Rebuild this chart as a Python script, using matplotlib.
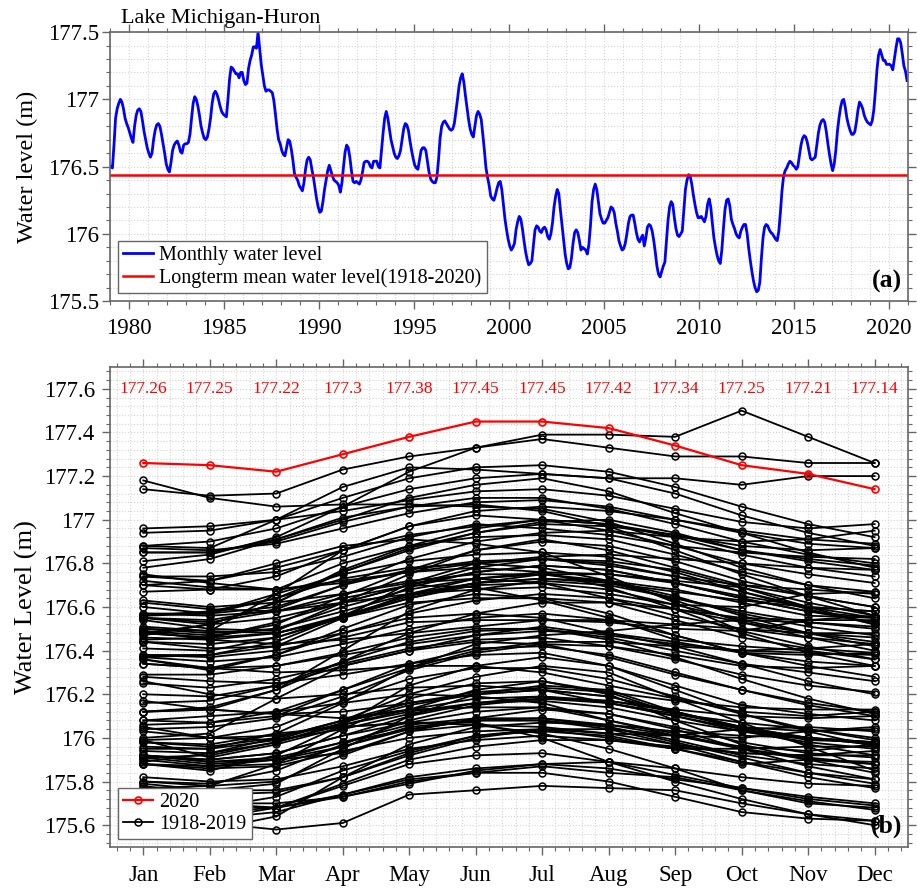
#!/usr/bin/env python
# -*- coding: utf-8 -*-
"""Lake Michigan-Huron water levels: monthly record since 1979 and every year by month."""

import matplotlib
matplotlib.use("Agg")
import matplotlib.pyplot as pyplot
from matplotlib.lines import Line2D
from matplotlib.ticker import MultipleLocator, FuncFormatter

## Data (m)

FIRST_YEAR = 1918
MONTHS = ["Jan", "Feb", "Mar", "Apr", "May", "Jun", "Jul", "Aug", "Sep", "Oct", "Nov", "Dec"]
LONGTERM_MEAN = 176.44  # 1918-2020

# One row per year, Jan..Dec
LEVELS_1918_1978 = [
    [176.55, 176.52, 176.55, 176.62, 176.70, 176.76, 176.79, 176.77, 176.71, 176.64, 176.58, 176.53],
    [176.49, 176.47, 176.50, 176.60, 176.68, 176.73, 176.75, 176.72, 176.65, 176.56, 176.48, 176.42],
    [176.37, 176.35, 176.37, 176.43, 176.50, 176.55, 176.57, 176.54, 176.47, 176.39, 176.33, 176.28],
    [176.25, 176.23, 176.27, 176.34, 176.41, 176.45, 176.46, 176.42, 176.36, 176.29, 176.24, 176.21],
    [176.20, 176.19, 176.24, 176.35, 176.44, 176.49, 176.50, 176.45, 176.37, 176.27, 176.18, 176.11],
    [176.03, 176.00, 176.01, 176.06, 176.13, 176.18, 176.19, 176.16, 176.10, 176.03, 175.98, 175.95],
    [175.92, 175.90, 175.93, 176.01, 176.10, 176.16, 176.19, 176.17, 176.12, 176.04, 175.97, 175.92],
    [175.88, 175.86, 175.87, 175.94, 176.00, 176.03, 176.04, 176.00, 175.95, 175.89, 175.84, 175.81],
    [175.72, 175.70, 175.70, 175.73, 175.79, 175.85, 175.88, 175.89, 175.86, 175.82, 175.79, 175.78],
    [175.80, 175.79, 175.85, 175.97, 176.08, 176.15, 176.18, 176.17, 176.13, 176.10, 176.09, 176.10],
    [176.08, 176.07, 176.12, 176.22, 176.32, 176.40, 176.44, 176.44, 176.42, 176.40, 176.41, 176.43],
    [176.48, 176.52, 176.62, 176.77, 176.88, 176.96, 177.00, 176.98, 176.92, 176.84, 176.78, 176.74],
    [176.70, 176.68, 176.68, 176.72, 176.76, 176.78, 176.76, 176.69, 176.59, 176.48, 176.39, 176.33],
    [176.26, 176.20, 176.18, 176.20, 176.23, 176.24, 176.22, 176.16, 176.10, 176.04, 176.00, 175.97],
    [175.92, 175.90, 175.93, 176.01, 176.07, 176.12, 176.14, 176.11, 176.05, 175.98, 175.93, 175.91],
    [175.88, 175.87, 175.90, 175.98, 176.06, 176.09, 176.09, 176.05, 175.98, 175.91, 175.84, 175.79],
    [175.72, 175.70, 175.68, 175.74, 175.81, 175.84, 175.87, 175.84, 175.82, 175.76, 175.71, 175.67],
    [175.65, 175.63, 175.66, 175.74, 175.82, 175.86, 175.88, 175.86, 175.81, 175.77, 175.73, 175.70],
    [175.68, 175.66, 175.68, 175.78, 175.88, 175.92, 175.93, 175.89, 175.83, 175.77, 175.72, 175.69],
    [175.67, 175.68, 175.73, 175.85, 175.94, 176.01, 176.04, 176.02, 175.97, 175.93, 175.92, 175.92],
    [175.91, 175.92, 175.98, 176.07, 176.15, 176.20, 176.22, 176.19, 176.12, 176.05, 176.00, 175.98],
    [175.99, 176.00, 176.05, 176.17, 176.27, 176.32, 176.32, 176.27, 176.19, 176.11, 176.04, 175.99],
    [175.90, 175.87, 175.88, 175.96, 176.05, 176.08, 176.08, 176.05, 175.99, 175.92, 175.88, 175.86],
    [175.82, 175.80, 175.81, 175.87, 175.95, 175.99, 176.01, 175.99, 175.95, 175.95, 175.96, 175.96],
    [175.95, 175.95, 175.99, 176.08, 176.16, 176.21, 176.23, 176.21, 176.17, 176.14, 176.13, 176.13],
    [176.12, 176.13, 176.22, 176.40, 176.58, 176.68, 176.72, 176.70, 176.64, 176.58, 176.53, 176.50],
    [176.46, 176.45, 176.48, 176.56, 176.64, 176.70, 176.71, 176.68, 176.61, 176.54, 176.48, 176.44],
    [176.41, 176.40, 176.46, 176.56, 176.65, 176.71, 176.73, 176.71, 176.67, 176.63, 176.60, 176.58],
    [176.55, 176.53, 176.58, 176.66, 176.72, 176.75, 176.75, 176.71, 176.64, 176.57, 176.51, 176.47],
    [176.45, 176.46, 176.52, 176.65, 176.77, 176.86, 176.90, 176.88, 176.81, 176.72, 176.65, 176.60],
    [176.57, 176.57, 176.64, 176.73, 176.78, 176.80, 176.78, 176.72, 176.63, 176.53, 176.46, 176.40],
    [176.36, 176.32, 176.30, 176.31, 176.33, 176.33, 176.30, 176.24, 176.18, 176.12, 176.10, 176.12],
    [176.12, 176.14, 176.22, 176.35, 176.48, 176.57, 176.62, 176.62, 176.59, 176.55, 176.54, 176.56],
    [176.56, 176.58, 176.64, 176.76, 176.87, 176.94, 176.98, 176.97, 176.93, 176.88, 176.86, 176.87],
    [176.88, 176.90, 176.96, 177.06, 177.14, 177.19, 177.21, 177.19, 177.12, 177.02, 176.94, 176.88],
    [176.85, 176.85, 176.90, 176.99, 177.06, 177.10, 177.10, 177.05, 176.98, 176.90, 176.84, 176.80],
    [176.72, 176.69, 176.68, 176.71, 176.76, 176.80, 176.82, 176.79, 176.74, 176.70, 176.68, 176.66],
    [176.63, 176.60, 176.62, 176.66, 176.71, 176.73, 176.71, 176.64, 176.56, 176.50, 176.46, 176.43],
    [176.34, 176.32, 176.33, 176.39, 176.46, 176.50, 176.50, 176.46, 176.40, 176.34, 176.30, 176.26],
    [176.17, 176.13, 176.11, 176.12, 176.16, 176.20, 176.22, 176.19, 176.12, 176.05, 176.00, 175.97],
    [175.92, 175.89, 175.90, 175.96, 176.04, 176.08, 176.09, 176.06, 176.01, 175.95, 175.90, 175.88],
    [175.79, 175.76, 175.76, 175.82, 175.92, 176.00, 176.04, 176.04, 176.01, 176.00, 176.03, 176.05],
    [176.06, 176.07, 176.10, 176.22, 176.34, 176.41, 176.42, 176.38, 176.30, 176.22, 176.15, 176.10],
    [176.05, 176.00, 175.99, 176.04, 176.11, 176.16, 176.17, 176.14, 176.08, 176.03, 176.00, 175.98],
    [175.92, 175.89, 175.91, 175.98, 176.04, 176.08, 176.08, 176.04, 175.97, 175.89, 175.82, 175.77],
    [175.72, 175.69, 175.68, 175.73, 175.80, 175.84, 175.84, 175.80, 175.73, 175.66, 175.63, 175.62],
    [175.65, 175.61, 175.58, 175.61, 175.74, 175.76, 175.78, 175.77, 175.76, 175.70, 175.65, 175.62],
    [175.62, 175.63, 175.68, 175.79, 175.90, 175.96, 175.99, 175.99, 175.96, 175.93, 175.92, 175.94],
    [175.94, 175.93, 175.98, 176.06, 176.12, 176.16, 176.18, 176.16, 176.11, 176.05, 176.03, 176.04],
    [176.04, 176.05, 176.09, 176.19, 176.31, 176.39, 176.43, 176.42, 176.38, 176.33, 176.32, 176.33],
    [176.29, 176.29, 176.33, 176.38, 176.43, 176.47, 176.49, 176.48, 176.44, 176.39, 176.35, 176.33],
    [176.37, 176.38, 176.44, 176.56, 176.69, 176.76, 176.79, 176.77, 176.71, 176.64, 176.58, 176.55],
    [176.44, 176.41, 176.42, 176.48, 176.57, 176.63, 176.66, 176.64, 176.59, 176.53, 176.48, 176.46],
    [176.44, 176.43, 176.46, 176.55, 176.66, 176.73, 176.76, 176.75, 176.71, 176.65, 176.60, 176.58],
    [176.55, 176.54, 176.59, 176.70, 176.82, 176.90, 176.94, 176.95, 176.92, 176.90, 176.91, 176.95],
    [176.96, 176.97, 177.00, 177.04, 177.09, 177.13, 177.14, 177.11, 177.05, 176.99, 176.96, 176.98],
    [176.94, 176.95, 177.00, 177.10, 177.19, 177.24, 177.25, 177.22, 177.15, 177.06, 176.98, 176.92],
    [176.87, 176.86, 176.89, 176.96, 177.03, 177.08, 177.09, 177.06, 177.00, 176.94, 176.89, 176.87],
    [176.85, 176.85, 176.91, 177.01, 177.06, 177.07, 177.04, 176.97, 176.86, 176.75, 176.65, 176.56],
    [176.49, 176.45, 176.43, 176.45, 176.48, 176.51, 176.54, 176.54, 176.52, 176.50, 176.48, 176.48],
    [176.48, 176.46, 176.48, 176.55, 176.64, 176.71, 176.75, 176.75, 176.72, 176.69, 176.60, 176.55],
]

LEVELS_1979_2020 = [
    [176.50, 176.49, 176.66, 176.86, 176.93, 176.97, 177.00, 176.98, 176.93, 176.86, 176.82, 176.79],
    [176.75, 176.71, 176.68, 176.80, 176.88, 176.92, 176.93, 176.91, 176.84, 176.76, 176.70, 176.64],
    [176.60, 176.57, 176.60, 176.70, 176.77, 176.81, 176.82, 176.80, 176.74, 176.67, 176.60, 176.52],
    [176.48, 176.46, 176.53, 176.62, 176.66, 176.68, 176.69, 176.66, 176.61, 176.60, 176.66, 176.67],
    [176.67, 176.68, 176.74, 176.86, 176.97, 177.02, 177.00, 176.95, 176.88, 176.80, 176.75, 176.71],
    [176.70, 176.72, 176.78, 176.86, 176.97, 177.04, 177.06, 177.04, 177.00, 176.95, 176.91, 176.89],
    [176.88, 176.87, 177.00, 177.15, 177.24, 177.23, 177.21, 177.19, 177.19, 177.16, 177.20, 177.20],
    [177.14, 177.11, 177.12, 177.23, 177.29, 177.33, 177.39, 177.39, 177.38, 177.50, 177.38, 177.26],
    [177.18, 177.10, 177.06, 177.07, 177.07, 177.06, 177.05, 176.99, 176.89, 176.78, 176.70, 176.67],
    [176.62, 176.59, 176.58, 176.64, 176.70, 176.69, 176.63, 176.55, 176.45, 176.42, 176.40, 176.36],
    [176.34, 176.32, 176.38, 176.48, 176.55, 176.57, 176.55, 176.48, 176.42, 176.34, 176.26, 176.20],
    [176.16, 176.17, 176.24, 176.33, 176.40, 176.47, 176.51, 176.47, 176.43, 176.40, 176.39, 176.38],
    [176.36, 176.31, 176.38, 176.50, 176.61, 176.66, 176.64, 176.57, 176.47, 176.39, 176.38, 176.39],
    [176.38, 176.37, 176.40, 176.46, 176.53, 176.54, 176.54, 176.53, 176.50, 176.49, 176.54, 176.54],
    [176.54, 176.50, 176.49, 176.62, 176.75, 176.86, 176.91, 176.86, 176.78, 176.70, 176.65, 176.60],
    [176.57, 176.56, 176.58, 176.62, 176.70, 176.78, 176.82, 176.81, 176.77, 176.69, 176.62, 176.56],
    [176.51, 176.49, 176.48, 176.55, 176.62, 176.64, 176.64, 176.62, 176.54, 176.46, 176.41, 176.39],
    [176.38, 176.38, 176.42, 176.55, 176.71, 176.80, 176.83, 176.84, 176.82, 176.80, 176.78, 176.77],
    [176.78, 176.82, 176.91, 177.00, 177.10, 177.16, 177.19, 177.13, 177.03, 176.94, 176.85, 176.78],
    [176.74, 176.72, 176.80, 176.88, 176.91, 176.89, 176.85, 176.74, 176.62, 176.49, 176.42, 176.36],
    [176.28, 176.26, 176.25, 176.29, 176.34, 176.38, 176.39, 176.33, 176.22, 176.11, 176.03, 175.96],
    [175.91, 175.88, 175.90, 175.93, 176.03, 176.09, 176.13, 176.11, 176.04, 175.95, 175.87, 175.81],
    [175.77, 175.78, 175.80, 175.92, 176.03, 176.06, 176.05, 176.02, 176.01, 176.04, 176.05, 176.03],
    [175.98, 175.96, 176.00, 176.08, 176.20, 176.28, 176.33, 176.30, 176.18, 176.07, 175.96, 175.85],
    [175.78, 175.74, 175.75, 175.82, 175.93, 176.01, 176.03, 176.01, 175.95, 175.88, 175.90, 175.89],
    [175.88, 175.85, 175.92, 176.06, 176.24, 176.33, 176.37, 176.33, 176.24, 176.15, 176.11, 176.08],
    [176.08, 176.10, 176.12, 176.16, 176.20, 176.19, 176.16, 176.08, 176.02, 175.95, 175.91, 175.88],
    [175.89, 175.93, 176.00, 176.08, 176.13, 176.14, 176.14, 176.08, 176.01, 175.96, 175.94, 175.97],
    [175.99, 175.91, 175.97, 176.05, 176.07, 176.06, 176.02, 175.95, 175.86, 175.76, 175.70, 175.68],
    [175.72, 175.76, 175.79, 175.95, 176.10, 176.20, 176.24, 176.22, 176.12, 176.04, 175.99, 175.98],
    [176.00, 176.02, 176.18, 176.33, 176.40, 176.44, 176.43, 176.37, 176.29, 176.22, 176.16, 176.12],
    [176.12, 176.13, 176.11, 176.09, 176.13, 176.22, 176.26, 176.20, 176.08, 175.97, 175.90, 175.84],
    [175.80, 175.78, 175.88, 176.04, 176.18, 176.25, 176.26, 176.21, 176.11, 176.07, 176.04, 176.00],
    [175.98, 175.97, 176.02, 176.05, 176.07, 176.07, 176.00, 175.89, 175.80, 175.72, 175.65, 175.60],
    [175.57, 175.58, 175.64, 175.82, 175.97, 176.05, 176.07, 176.06, 176.03, 176.01, 176.00, 175.98],
    [175.96, 175.95, 176.02, 176.16, 176.32, 176.43, 176.47, 176.49, 176.52, 176.54, 176.53, 176.51],
    [176.50, 176.48, 176.50, 176.58, 176.66, 176.71, 176.73, 176.72, 176.68, 176.62, 176.56, 176.55],
    [176.56, 176.57, 176.66, 176.75, 176.81, 176.84, 176.85, 176.83, 176.76, 176.67, 176.59, 176.52],
    [176.47, 176.52, 176.62, 176.76, 176.86, 176.94, 176.99, 177.00, 176.94, 176.86, 176.81, 176.77],
    [176.74, 176.74, 176.76, 176.83, 176.92, 176.98, 176.96, 176.93, 176.88, 176.85, 176.83, 176.82],
    [176.81, 176.84, 176.92, 177.06, 177.22, 177.33, 177.37, 177.33, 177.29, 177.29, 177.26, 177.26],
    [177.26, 177.25, 177.22, 177.30, 177.38, 177.45, 177.45, 177.42, 177.34, 177.25, 177.21, 177.14],
]

## Config

FONT = ["Liberation Serif", "DejaVu Serif"]
FRAME_COLOR = "#666666"
GRID_COLOR = "#d4d4d4"
TICK_SIZE = 16.5

pyplot.rcParams["font.family"] = FONT

all_levels = LEVELS_1918_1978 + LEVELS_1979_2020
years = list(range(FIRST_YEAR, FIRST_YEAR + len(all_levels)))


def style_axes(ax):
    for spine in ax.spines.values():
        spine.set_color(FRAME_COLOR)
        spine.set_linewidth(1.2)
    ax.tick_params(which="both", direction="out", top=True, right=True,
                   color=FRAME_COLOR, labelsize=TICK_SIZE)
    ax.tick_params(which="major", length=6, width=1)
    ax.tick_params(which="minor", length=3, width=0.8)
    ax.grid(True, which="both", color=GRID_COLOR, linestyle=":", linewidth=0.8)
    ax.set_axisbelow(True)
    ax.yaxis.set_major_formatter(FuncFormatter(lambda v, p: f"{v:g}"))


fig = pyplot.figure(figsize=(9.17, 8.91), dpi=100)

## (a) Monthly water level since 1979
ax1 = fig.add_axes([0.120, 0.662, 0.870, 0.302])
style_axes(ax1)

recent_years = years[-len(LEVELS_1979_2020):]
times = []
values = []
for year, row in zip(recent_years, LEVELS_1979_2020):
    for m, v in enumerate(row):
        times.append(year + (m + 0.5) / 12)
        values.append(v)

ax1.plot(times, values, color="blue", linewidth=2.0, label="Monthly water level")
ax1.axhline(LONGTERM_MEAN, color="red", linewidth=1.8,
            label="Longterm mean water level(1918-2020)")

ax1.set_xlim(1979, 2021)
ax1.set_ylim(175.5, 177.5)
ax1.xaxis.set_major_locator(MultipleLocator(5))
ax1.xaxis.set_minor_locator(MultipleLocator(1))
ax1.yaxis.set_major_locator(MultipleLocator(0.5))
ax1.yaxis.set_minor_locator(MultipleLocator(0.1))
ax1.tick_params(axis="x", pad=6)
ax1.tick_params(axis="y", pad=2)
ax1.set_ylabel("Water level (m)", fontsize=17.5)
ax1.yaxis.set_label_coords(-0.09, 0.5)

ax1.text(0.014, 1.033, "Lake Michigan-Huron", transform=ax1.transAxes,
         fontsize=16, ha="left", va="baseline")
ax1.text(0.993, 0.05, "(a)", transform=ax1.transAxes, fontsize=18.5,
         fontweight="bold", ha="right", va="baseline")

leg1 = ax1.legend(loc="lower left", fontsize=14.5, fancybox=False, framealpha=1,
                  edgecolor=FRAME_COLOR, borderpad=0.25, handlelength=1.5,
                  handletextpad=0.3, labelspacing=0.15, borderaxespad=0.4)
leg1.get_frame().set_linewidth(1.0)

## (b) Each year by month
ax2 = fig.add_axes([0.120, 0.0494, 0.870, 0.5387])
style_axes(ax2)

month_x = list(range(1, 13))
for year, row in zip(years, all_levels):
    if year == 2020:
        continue
    ax2.plot(month_x, row, color="black", linewidth=1.3, marker="o",
             markersize=5, markerfacecolor="none", markeredgewidth=1.1)

levels_2020 = all_levels[years.index(2020)]
ax2.plot(month_x, levels_2020, color="red", linewidth=1.6, marker="o",
         markersize=5, markerfacecolor="none", markeredgewidth=1.2, zorder=5)

for x, v in zip(month_x, levels_2020):
    ax2.text(x, 177.6, f"{v:g}", color="red", fontsize=12.5, ha="center", va="center")

ax2.set_xlim(0.5, 12.5)
ax2.set_ylim(175.5, 177.7)
ax2.set_xticks(month_x)
ax2.set_xticklabels(MONTHS)
ax2.xaxis.set_minor_locator(MultipleLocator(0.2))
ax2.yaxis.set_major_locator(MultipleLocator(0.2))
ax2.yaxis.set_minor_locator(MultipleLocator(0.04))
ax2.tick_params(axis="x", pad=7)
ax2.tick_params(axis="y", pad=5)
ax2.set_ylabel("Water Level (m)", fontsize=19)
ax2.yaxis.set_label_coords(-0.09, 0.5)

ax2.text(0.993, 0.03, "(b)", transform=ax2.transAxes, fontsize=18.5,
         fontweight="bold", ha="right", va="baseline")

handles = [
    Line2D([], [], color="red", linewidth=1.6, marker="o", markersize=5,
           markerfacecolor="none", markeredgewidth=1.2),
    Line2D([], [], color="black", linewidth=1.3, marker="o", markersize=5,
           markerfacecolor="none", markeredgewidth=1.1),
]
leg2 = ax2.legend(handles, ["2020", "1918-2019"], loc="lower left", fontsize=14.5,
                  fancybox=False, framealpha=1, edgecolor=FRAME_COLOR,
                  borderpad=0.25, handlelength=1.5, handletextpad=0.3,
                  labelspacing=0.15, borderaxespad=0.4)
leg2.get_frame().set_linewidth(1.0)
leg2.set_zorder(10)

fig.savefig("out.png", dpi=100, facecolor="white")
